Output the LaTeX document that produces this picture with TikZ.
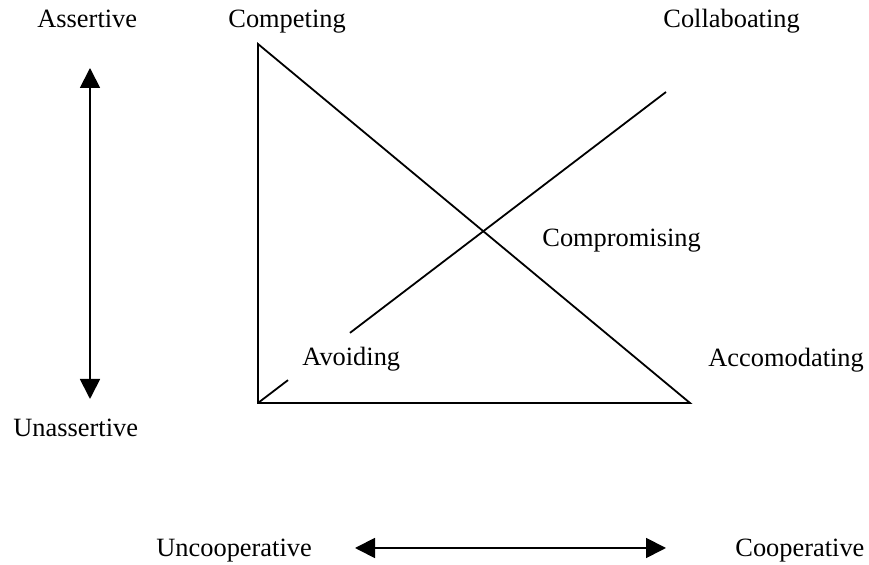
\documentclass[tikz,border=0pt]{standalone}
\usepackage{fontspec}
\setmainfont{Liberation Serif}
\usetikzlibrary{arrows.meta, calc}

\begin{document}
\begin{tikzpicture}[
  x=0.5pt, y=-0.5pt,
  every node/.style={inner sep=0pt, anchor=base west, font=\fontsize{13.2}{15}\selectfont},
  edge/.style={line width=0.9pt},
  axis/.style={line width=0.9pt, {Triangle[length=10pt,width=10pt]}-{Triangle[length=10pt,width=10pt]}}
]
\useasboundingbox (0,0) rectangle (869,565);

% triangle corners
\coordinate (comp) at (258,44);
\coordinate (avoid) at (258,403);
\coordinate (acc) at (690,403);
\coordinate (coll) at (666,92);

% labels
\node (assert) at (37,28) {Assertive};
\node (competing) at (228,28) {Competing};
\node (collab) at (663,28) {Collaboating};
\node (compro) at (542,247) {Compromising};
\node (avoiding) at (302,366) {Avoiding};
\node (accom) at (708,367) {Accomodating};
\node (unassert) at (13,437) {Unassertive};
\node (uncoop) at (156,557) {Uncooperative};
\node (coop) at (735,557) {Cooperative};

% axes
\coordinate (vtop) at (90,68);
\coordinate (vbot) at (90,399);
\coordinate (hleft) at (355,548);
\coordinate (hright) at (666,548);
\draw[axis] (vtop) -- (vbot);
\draw[axis] (hleft) -- (hright);

% triangle and the cross line
\draw[edge] (comp) -- (avoid) -- (acc) -- cycle;
\draw[edge] (avoid) -- ($(avoid)!0.0735!(coll)$);
\draw[edge] ($(avoid)!0.2255!(coll)$) -- (coll);
\end{tikzpicture}
\end{document}
